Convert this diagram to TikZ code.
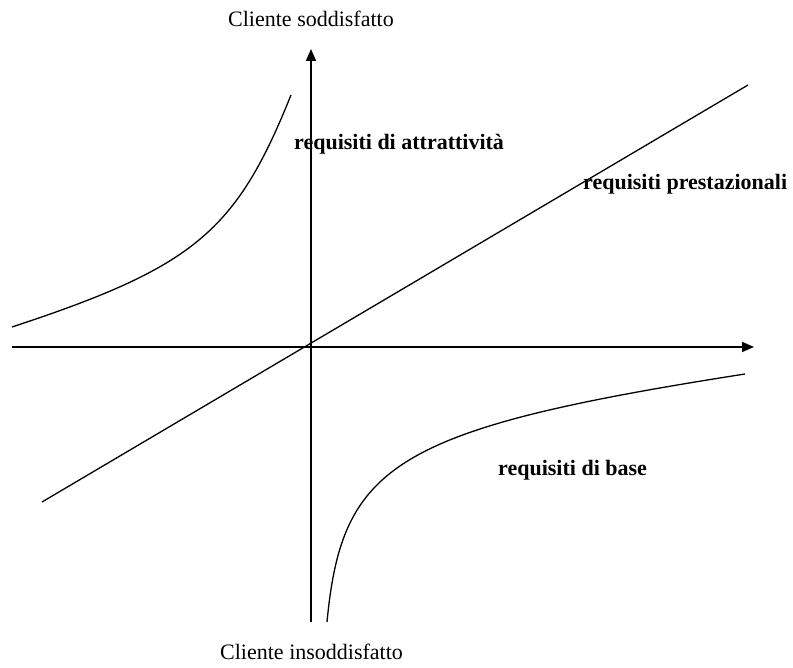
\documentclass[tikz,border=0pt]{standalone}
\usepackage{fontspec}
\setmainfont{Liberation Serif}
\usetikzlibrary{arrows.meta}
\begin{document}
\begin{tikzpicture}[x=1pt,y=-1pt,
  axis/.style={line width=1.6pt,-{Triangle[length=12pt,width=10pt]}},
  curve/.style={line width=1.3pt},
  lbl/.style={inner sep=0pt,anchor=base west,font=\fontsize{22}{26}\selectfont},
  blbl/.style={lbl,font=\fontsize{22}{26}\selectfont\bfseries}]
\useasboundingbox (0,0) rectangle (793,668);
% axes
\coordinate (ybot) at (311,622);
\coordinate (ytop) at (311,49);
\coordinate (xl) at (12,347);
\coordinate (xr) at (754,347);
\draw[axis] (ybot) -- (ytop);
\draw[axis] (xl) -- (xr);
% linear line
\coordinate (la) at (42,502);
\coordinate (lb) at (748,85);
\draw[curve] (la) -- (lb);
% attractive curve
\coordinate (aa) at (12,327);
\coordinate (ab) at (291,95);
\draw[curve] (aa) .. controls (194,267) and (236,232) .. (ab);
% basic curve
\coordinate (ba) at (327,622);
\coordinate (bb) at (745,374);
\draw[curve] (ba) .. controls (342,465) and (393,429) .. (bb);
% labels
\node[lbl] (top) at (228,27) {Cliente soddisfatto};
\node[lbl] (bot) at (220,659) {Cliente insoddisfatto};
\node[blbl] (attr) at (294,150) {requisiti di attrattività};
\node[blbl] (prest) at (583,190) {requisiti prestazionali};
\node[blbl] (base) at (498,475) {requisiti di base};
\end{tikzpicture}
\end{document}
